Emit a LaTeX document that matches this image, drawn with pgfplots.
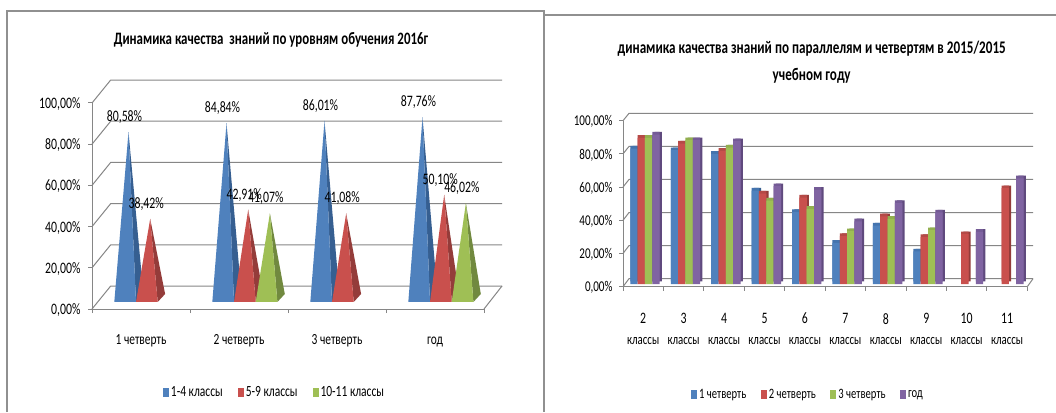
\documentclass[border=0pt]{standalone}
\usepackage{fontspec}
\setmainfont{Carlito}[FakeStretch=0.74]
\usepackage{pgfplots}
\usepackage{pgfplotstable}
\pgfplotsset{compat=1.18}

\definecolor{cblue}{HTML}{4F81BD}
\definecolor{cred}{HTML}{C9504D}
\definecolor{cgreen}{HTML}{9FBF55}
\definecolor{cpurple}{HTML}{8064A2}
\definecolor{dblue}{HTML}{365F91}
\definecolor{dred}{HTML}{943C3A}
\definecolor{dgreen}{HTML}{71893F}
\definecolor{dpurple}{HTML}{604A7E}
\definecolor{tblue}{HTML}{4474AE}
\definecolor{tred}{HTML}{B54A47}
\definecolor{tgreen}{HTML}{92AF4F}
\definecolor{tpurple}{HTML}{745B96}
\definecolor{axisgray}{HTML}{868686}
\definecolor{framegray}{HTML}{909090}

% per cent by class and quarter (nan = no bar)
\pgfplotstableread{
x    q1    q2    q3    god
0.5  81.6  88.0  88.0  90.0
1.5  80.6  84.6  86.6  86.6
2.5  78.4  80.2  82.2  86.0
3.5  56.3  54.5  50.3  58.9
4.5  43.3  52.1  45.3  56.7
5.5  24.8  28.8  31.8  37.8
6.5  35.2  40.7  39.3  48.7
7.5  19.6  28.2  32.4  43.1
8.5  nan   30.0  nan   31.4
9.5  nan   57.7  nan   63.6
}\classdata

% one pyramid: category, slot, value, colour name suffix
\newcommand\pyr[4]{%
  \pgfmathsetmacro\xl{#1+0.2276+#2*0.2214}%
  \pgfmathsetmacro\xr{\xl+0.2214}%
  \pgfmathsetmacro\xa{\xl+0.1448}%
  \pgfmathsetmacro\xb{\xr+0.0755}%
  \addplot[forget plot,draw=none,fill=d#4,yshift=11bp] coordinates {(\xa,#3) (\xr,-1.94) (\xb,1.94)} -- cycle;
  \addplot[forget plot,draw=none,fill=c#4,yshift=11bp] coordinates {(\xl,-1.94) (\xa,#3) (\xr,-1.94)} -- cycle;
}
\newcommand\lab[3]{%
  \pgfmathsetmacro\xa{#1+0.3724+#2*0.2214}%
  \addplot[forget plot,draw=none,no marks,nodes near coords={\pgfmathprintnumber{\pgfplotspointmeta}\%},
    every node near coord/.style={anchor=center,xshift=-4bp,yshift=26bp,font=\fontsize{16}{16}\selectfont,text=black,inner sep=0pt}] coordinates {(\xa,#3)};
}
% one 3D bar series: table column, shift, colour name suffix
\newcommand\barser[3]{%
  \addplot[forget plot,ybar,bar width=7.4bp,bar shift=#2bp,draw=none,fill=d#3,xshift=2.2bp,yshift=5.4bp] table[x=x,y=#1] {\classdata};
  \addplot[forget plot,ybar,bar width=7.4bp,bar shift=#2bp,draw=none,fill=t#3,yshift=5.4bp] table[x=x,y=#1] {\classdata};
  \addplot[forget plot,ybar,bar width=7.4bp,bar shift=#2bp,draw=none,fill=c#3,yshift=2.7bp] table[x=x,y=#1] {\classdata};
}

\pgfplotsset{
  base/.style={
    scale only axis,
    anchor=south west,
    clip=false,
    axis lines=left,
    axis line style={draw=axisgray,line width=1bp,-},
    tick style={draw=axisgray,line width=1bp},
    major tick length=4bp,
    tick align=outside,
    ymin=0,ymax=100,ytick={0,20,...,100},
    yticklabel={\pgfmathprintnumber{\tick}\%},
    /pgf/number format/.cd,fixed,fixed zerofill,precision=2,use comma,assume math mode=true,
    /pgfplots/.cd,
    x tick label as interval,
    legend image code/.code={\fill[draw=none,##1] (0bp,-4.5bp) rectangle (6bp,4.5bp);},
    legend cell align=left,
    legend style={draw=none,fill=none,inner sep=0pt},
  },
}

\begin{document}
\begin{tikzpicture}[x=1bp,y=1bp]
\path[use as bounding box,fill=white] (0,0) rectangle (1056,412);

% frames of the two pasted charts
\draw[framegray,line width=1.5bp] (7,0) -- (7,401) -- (544,401) -- (544,0);
\draw[framegray,line width=1.5bp] (544,397) -- (1056,397);

% back walls and floors
\foreach \k in {0,1,2,3,4,5} {
  \draw[axisgray,line width=1bp] (92,{103+41.2*\k}) -- (110.7,{126+41.2*\k}) -- (502,{126+41.2*\k});
  \draw[axisgray,line width=1bp] (623,{125.3+33.2*\k}) -- (629,{133.3+33.07*\k}) -- (1033,{133.3+33.07*\k});
}
\draw[axisgray,line width=1bp] (484,103) -- (502,126);
\draw[axisgray,line width=1bp] (1027.3,125.3) -- (1033,133.3);

% titles
\node[font=\fontsize{17.5}{17.5}\selectfont\bfseries] at (271,372) {Динамика качества\ \ знаний по уровням обучения 2016г};
\node[font=\fontsize{17.8}{17.8}\selectfont\bfseries] at (811.7,363) {динамика качества знаний по параллелям и четвертям в 2015/2015};
\node[font=\fontsize{17.8}{17.8}\selectfont\bfseries] at (811.7,336) {учебном году};

\begin{axis}[base,
  at={(92bp,103bp)},width=392bp,height=206bp,
  xmin=0,xmax=4,xtick={0,1,2,3,4},
  xticklabels={1 четверть,2 четверть,3 четверть,год},
  xticklabel style={font=\fontsize{15.5}{15.5}\selectfont,yshift=-18bp,text height=10bp,text depth=3bp},
  yticklabel style={font=\fontsize{16}{16}\selectfont,xshift=-4bp,yshift=-1bp},
  legend columns=-1,
  legend style={at={(274.5bp-92bp,-79bp)},anchor=center,font=\fontsize{15.6}{15.6}\selectfont,
    /tikz/every even column/.append style={column sep=13bp}},
]
\addlegendimage{fill=cblue}\addlegendentry{1-4 классы}
\addlegendimage{fill=cred}\addlegendentry{5-9 классы}
\addlegendimage{fill=cgreen}\addlegendentry{10-11 классы}
\pyr{0}{0}{80.58}{blue}
\pyr{0}{1}{38.42}{red}
\pyr{1}{0}{84.84}{blue}
\pyr{1}{1}{42.91}{red}
\pyr{1}{2}{41.07}{green}
\pyr{2}{0}{86.01}{blue}
\pyr{2}{1}{41.08}{red}
\pyr{3}{0}{87.76}{blue}
\pyr{3}{1}{50.10}{red}
\pyr{3}{2}{46.02}{green}
\lab{0}{0}{80.58}
\lab{0}{1}{38.42}
\lab{1}{0}{84.84}
\lab{1}{1}{42.91}
\lab{1}{2}{41.07}
\lab{2}{0}{86.01}
\lab{2}{1}{41.08}
\lab{3}{0}{87.76}
\lab{3}{1}{50.10}
\lab{3}{2}{46.02}
\end{axis}

\begin{axis}[base,
  at={(623bp,125.3bp)},width=404.3bp,height=166bp,
  xmin=0,xmax=10,xtick={0,...,10},
  xticklabels={2,3,4,5,6,7,8,9,10,11},
  xticklabel style={font=\fontsize{16}{16}\selectfont,yshift=-19bp},
  yticklabel style={font=\fontsize{15}{15}\selectfont,xshift=-3bp,yshift=-1bp},
  legend columns=-1,
  legend style={at={(808bp-623bp,-108bp)},anchor=center,font=\fontsize{14.4}{14.4}\selectfont,
    /tikz/every even column/.append style={column sep=12.5bp}},
]
\addlegendimage{fill=cblue}\addlegendentry{1 четверть}
\addlegendimage{fill=cred}\addlegendentry{2 четверть}
\addlegendimage{fill=cgreen}\addlegendentry{3 четверть}
\addlegendimage{fill=cpurple}\addlegendentry{год}
\barser{q1}{-9.2}{blue}
\barser{q2}{-1.87}{red}
\barser{q3}{5.47}{green}
\barser{god}{12.8}{purple}
\end{axis}

% second line of the class labels
\foreach \i in {0,...,9} {
  \node[font=\fontsize{14.7}{14.7}\selectfont] at ({643.2+40.43*\i},71) {классы};
}
\end{tikzpicture}
\end{document}
